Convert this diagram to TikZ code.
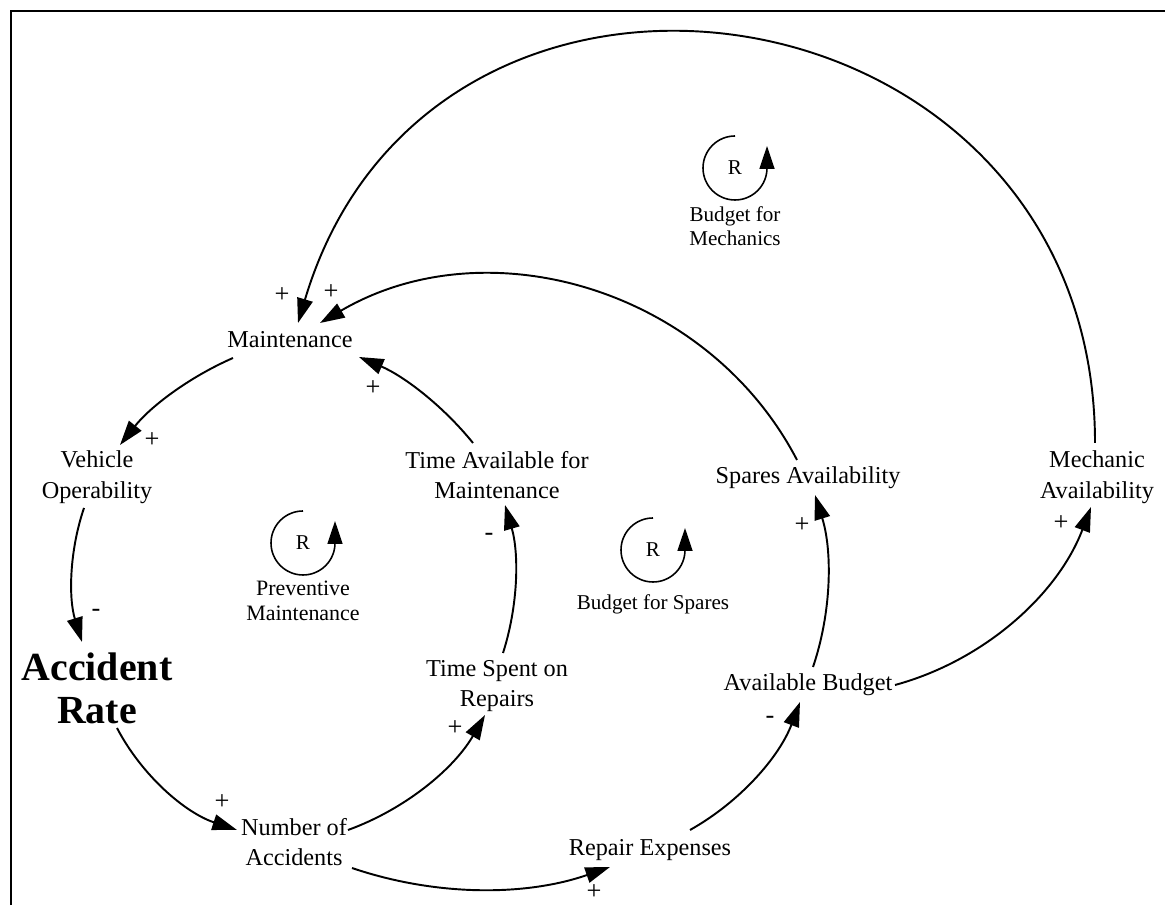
\documentclass[tikz,border=0pt]{standalone}
\usepackage{fontspec}
\setmainfont{Liberation Serif}
\usetikzlibrary{arrows.meta}
\begin{document}
\begin{tikzpicture}[x=0.02cm,y=0.02cm,
  var/.style={inner sep=0pt, align=center, font=\fontsize{13.8}{17.5}\selectfont},
  big/.style={inner sep=0pt, align=center, font=\fontsize{22.7}{24.4}\selectfont\bfseries},
  pol/.style={inner sep=0pt, font=\fontsize{15}{16}\selectfont},
  loopname/.style={inner sep=0pt, align=center, font=\fontsize{12}{13.5}\selectfont},
  rlabel/.style={inner sep=0pt, font=\fontsize{12}{14}\selectfont},
  link/.style={line width=1.1pt, -{Triangle[length=14pt,width=9pt]}},
  loopar/.style={line width=0.9pt, -{Triangle[length=13pt,width=8.5pt]}},
  frameline/.style={line width=1.2pt}
]
\useasboundingbox (0,0) rectangle (1165,905);
\draw[frameline] (11,0) -- (11,894) -- (1165,894);

% variables
\node[var] (maint) at (290,565) {Maintenance};
\node[var] (veh) at (97,428) {Vehicle\\Operability};
\node[big] (acc) at (97,217) {Accident\\Rate};
\node[var] (noa) at (294,63) {Number of\\Accidents};
\node[var] (tam) at (497,430) {Time Available for\\Maintenance};
\node[var] (tsr) at (497,219) {Time Spent on\\Repairs};
\node[var] (rep) at (650,55) {Repair Expenses};
\node[var] (ab) at (808,220) {Available Budget};
\node[var] (sa) at (808,427) {Spares Availability};
\node[var] (ma) at (1097,428) {Mechanic\\Availability};

% links
\draw[link] ([shift={(-2,34)}]ma.center) to[out=90,in=73.4,looseness=1.486] ([shift={(8,17)}]maint.center);
\draw[link] ([shift={(-11,18)}]sa.center) to[out=117.5,in=30.4,looseness=1.0] ([shift={(30,17)}]maint.center);
\draw[link] ([shift={(-24,32)}]tam.center) to[bend right=14,looseness=0.87] ([shift={(69,-17)}]maint.center);
\draw[link] ([shift={(-57,-18)}]maint.center) to[bend right=14,looseness=0.87] ([shift={(23,32)}]veh.center);
\draw[link] ([shift={(-13,-31)}]veh.center) to[bend right=18,looseness=0.87] ([shift={(-15,46)}]acc.center);
\draw[link] ([shift={(20,-40)}]acc.center) to[bend right=22,looseness=0.88] ([shift={(-57,12)}]noa.center);
\draw[link] ([shift={(54,12)}]noa.center) to[bend right=20,looseness=0.88] ([shift={(-12,-29)}]tsr.center);
\draw[link] ([shift={(6,33)}]tsr.center) to[bend right=17,looseness=0.87] ([shift={(8,-30)}]tam.center);
\draw[link] ([shift={(58,-26)}]noa.center) to[bend right=19,looseness=0.88] ([shift={(-40,-17)}]rep.center);
\draw[link] ([shift={(40,20)}]rep.center) to[bend right=20,looseness=0.88] ([shift={(-8,-17)}]ab.center);
\draw[link] ([shift={(5,18)}]ab.center) to[bend right=18,looseness=0.87] ([shift={(7,-17)}]sa.center);
\draw[link] ([shift={(87,0)}]ab.center) to[bend right=27,looseness=0.9] ([shift={(-6,-30)}]ma.center);

% polarities
\node[pol] (p1) at (282,610) {+};
\node[pol] (p2) at (331,613) {+};
\node[pol] (p3) at (373,517) {+};
\node[pol] (p4) at (152,465) {+};
\node[pol] (p5) at (96,292) {-};
\node[pol] (p6) at (222,103) {+};
\node[pol] (p7) at (455,177) {+};
\node[pol] (p8) at (489,368) {-};
\node[pol] (p9) at (594,13) {+};
\node[pol] (p10) at (770,185) {-};
\node[pol] (p11) at (802,380) {+};
\node[pol] (p12) at (1061,382) {+};

% loops
\node[rlabel] (r1) at (735,737) {R};
\draw[loopar] ([shift={(0,32)}]r1.center) arc[start angle=90,end angle=360,radius=32] -- ++(0,22);
\node[loopname] (l1) at (735,679) {Budget for\\Mechanics};

\node[rlabel] (r2) at (303,362) {R};
\draw[loopar] ([shift={(0,32)}]r2.center) arc[start angle=90,end angle=360,radius=32] -- ++(0,22);
\node[loopname, font=\fontsize{12.5}{14}\selectfont] (l2) at (303,304) {Preventive\\Maintenance};

\node[rlabel] (r3) at (653,355) {R};
\draw[loopar] ([shift={(0,32)}]r3.center) arc[start angle=90,end angle=360,radius=32] -- ++(0,22);
\node[loopname] (l3) at (653,301) {Budget for Spares};
\end{tikzpicture}
\end{document}
